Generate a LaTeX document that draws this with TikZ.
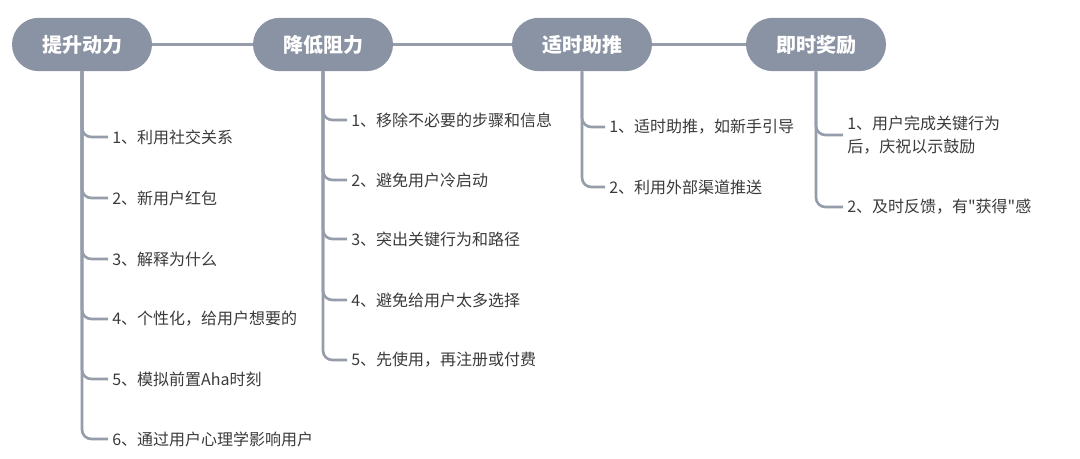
\documentclass[tikz,border=0pt]{standalone}
\usepackage{fontspec}
\setmainfont{Noto Sans CJK SC}
\newfontfamily\cjk{Noto Sans CJK SC}
\usetikzlibrary{positioning}
\definecolor{pillgray}{HTML}{8A93A3}
\definecolor{linegray}{HTML}{959DAB}
\definecolor{textgray}{HTML}{3A3A3A}

\begin{document}
\begin{tikzpicture}[x=0.75pt,y=-0.75pt,
    topic/.style={fill=pillgray, text=white, font=\cjk\fontsize{15}{18}\selectfont\bfseries,
      minimum width=105pt, minimum height=40pt, rounded corners=20pt, inner sep=0pt},
    item/.style={anchor=west, text=textgray, font=\cjk\fontsize{12}{17}\selectfont,
      align=left, inner sep=3pt},
    link/.style={draw=linegray, line width=2pt},
    branch/.style={draw=linegray, line width=2pt, rounded corners=7pt}]
    % canvas
    \useasboundingbox (0,0) rectangle (1080,459);

    % main topics
    \node[topic] (dongli) at (82,44.5) {提升动力};
    \node[topic] (zuli) at (323,44.5) {降低阻力};
    \node[topic] (zhutui) at (582,44.5) {适时助推};
    \node[topic] (jiangli) at (816,44.5) {即时奖励};

    \draw[link] (dongli) -- (zuli);
    \draw[link] (zuli) -- (zhutui);
    \draw[link] (zhutui) -- (jiangli);

    % 提升动力
    \node[item] (d1) at (108,137) {1、利用社交关系};
    \node[item] (d2) at (108,198) {2、新用户红包};
    \node[item] (d3) at (108,259) {3、解释为什么};
    \node[item] (d4) at (108,319) {4、个性化，给用户想要的};
    \node[item] (d5) at (108,379) {5、模拟前置Aha时刻};
    \node[item] (d6) at (108,439) {6、通过用户心理学影响用户};
    \foreach \i in {1,...,6}
        \draw[branch] (dongli.south) |- (d\i.west);

    % 降低阻力
    \node[item] (z1) at (347,120) {1、移除不必要的步骤和信息};
    \node[item] (z2) at (347,180) {2、避免用户冷启动};
    \node[item] (z3) at (347,239) {3、突出关键行为和路径};
    \node[item] (z4) at (347,300) {4、避免给用户太多选择};
    \node[item] (z5) at (347,360) {5、先使用，再注册或付费};
    \foreach \i in {1,...,5}
        \draw[branch] (zuli.south) |- (z\i.west);

    % 适时助推
    \node[item] (t1) at (605,127) {1、适时助推，如新手引导};
    \node[item] (t2) at (605,187) {2、利用外部渠道推送};
    \foreach \i in {1,2}
        \draw[branch] (zhutui.south) |- (t\i.west);

    % 即时奖励
    \node[item] (j1) at (843,135) {1、用户完成关键行为\\后，庆祝以示鼓励};
    \node[item] (j2) at (843,207) {2、及时反馈，有"获得"感};
    \foreach \i in {1,2}
        \draw[branch] (jiangli.south) |- (j\i.west);
\end{tikzpicture}
\end{document}
